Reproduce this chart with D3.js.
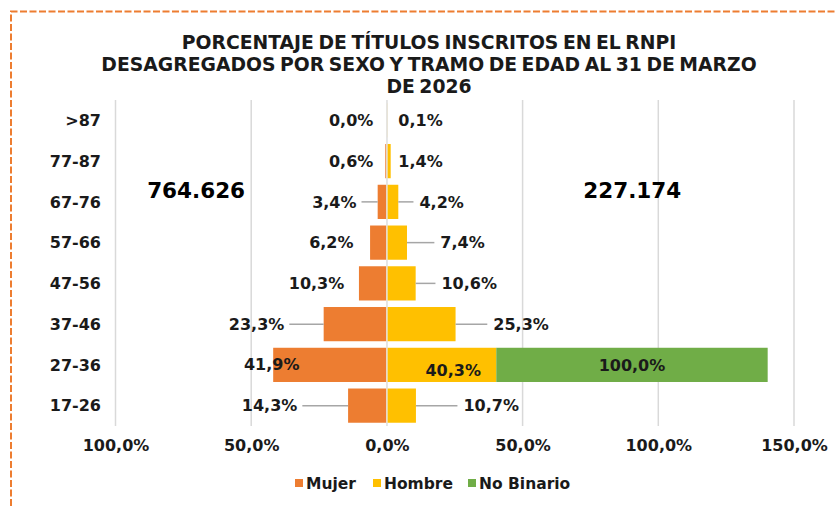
<!DOCTYPE html>
<html lang="es">
<head>
  <meta charset="UTF-8">
  <title>Porcentaje de títulos inscritos en el RNPI</title>
  <script src="https://d3js.org/d3.v7.min.js"></script>
  <style>
    body {
      margin: 0;
      background-color: white;
    }
    .lbl {
      font-family: "DejaVu Sans", Verdana, sans-serif;
      font-weight: bold;
    }
  </style>
</head>
<body>
  <div id="chart"></div>

<script>
  // age groups, top to bottom
  var ages = [">87", "77-87", "67-76", "57-66", "47-56", "37-46", "27-36", "17-26"];
  var mujer = [0.0, 0.6, 3.4, 6.2, 10.3, 23.3, 41.9, 14.3];
  var hombre = [0.1, 1.4, 4.2, 7.4, 10.6, 25.3, 40.3, 10.7];
  var noBinario = [0, 0, 0, 0, 0, 0, 100.0, 0];
  var totals = ["764.626", "227.174"];
  var xTicks = [-100, -50, 0, 50, 100, 150];
  var titleLines = [
    "PORCENTAJE DE TÍTULOS INSCRITOS EN EL RNPI",
    "DESAGREGADOS POR SEXO Y TRAMO DE EDAD AL 31 DE MARZO",
    "DE 2026"
  ];
  var series = ["Mujer", "Hombre", "No Binario"];
  var colors = ["#ED7D31", "#FFC000", "#70AD47"];

  // where excel left the data labels (in axis units)
  var mujerLabelAt = [-5.0, -5.0, -11.2, -12.3, -15.7, -37.8, -32.2, -33.0];
  var hombreLabelAt = [4.2, 4.2, 12.0, 19.7, 20.1, 39.2, 14.2, 28.2];

  var width = 835, height = 506;
  var fmt = v => d3.format(".1f")(Math.abs(v)).replace(".", ",") + "%";

  var svg = d3.select("#chart").append("svg")
    .attr("width", width)
    .attr("height", height);

  // dashed frame
  svg.append("path")
    .attr("d", "M11,506 L11,11.5 L835,11.5")
    .attr("fill", "none")
    .attr("stroke", "#ED7D31")
    .attr("stroke-width", 2)
    .attr("stroke-dasharray", "7,2.5");

  // title
  svg.append("text")
    .attr("class", "lbl")
    .attr("text-anchor", "middle")
    .style("font-size", "18.8px")
    .style("word-spacing", "-2px")
    .attr("fill", "#1a1a1a")
    .selectAll("tspan")
    .data(titleLines)
    .join("tspan")
    .attr("x", 429)
    .attr("y", (d, i) => 49 + i * 22)
    .text(d => d);

  var x = d3.scaleLinear().domain([-100, 150]).range([115.5, 794]);
  var y = d3.scaleBand().domain(ages).range([100, 426])
    .paddingInner(0.16).paddingOuter(0.08);

  // gridlines
  svg.append("g")
    .selectAll("line")
    .data(xTicks)
    .join("line")
    .attr("x1", d => x(d)).attr("x2", d => x(d))
    .attr("y1", 100).attr("y2", 426)
    .attr("stroke", "#d9d9d9")
    .attr("stroke-width", 1.5);

  // bars
  var rows = ages.map((a, i) => ({ age: a, m: mujer[i], h: hombre[i], nb: noBinario[i], i: i }));
  var bars = svg.append("g");
  bars.selectAll(".m").data(rows).join("rect")
    .attr("x", d => x(-d.m))
    .attr("width", d => x(0) - x(-d.m))
    .attr("y", d => y(d.age))
    .attr("height", y.bandwidth())
    .attr("fill", colors[0]);
  bars.selectAll(".h").data(rows).join("rect")
    .attr("x", x(0))
    .attr("width", d => x(d.h) - x(0))
    .attr("y", d => y(d.age))
    .attr("height", y.bandwidth())
    .attr("fill", colors[1]);
  bars.selectAll(".nb").data(rows.filter(d => d.nb > 0)).join("rect")
    .attr("x", d => x(d.h))
    .attr("width", d => x(d.h + d.nb) - x(d.h))
    .attr("y", d => y(d.age))
    .attr("height", y.bandwidth())
    .attr("fill", colors[2]);

  // zero line on top
  svg.append("line")
    .attr("x1", x(0)).attr("x2", x(0))
    .attr("y1", 100).attr("y2", 426)
    .attr("stroke", "#e6e6e6")
    .attr("stroke-width", 1.5);

  // category labels
  svg.append("g").selectAll("text").data(ages).join("text")
    .attr("class", "lbl")
    .attr("x", 101)
    .attr("y", d => y(d) + y.bandwidth() / 2)
    .attr("dy", "0.36em")
    .attr("text-anchor", "end")
    .style("font-size", "16px")
    .attr("fill", "#1a1a1a")
    .text(d => d);

  // data labels + leader lines
  var cy = d => y(d.age) + y.bandwidth() / 2;
  var lab = svg.append("g");
  rows.forEach(function(d) {
    var mx = x(mujerLabelAt[d.i]);
    var hx = x(hombreLabelAt[d.i]);
    var inside = d.nb > 0;
    lab.append("text")
      .attr("class", "lbl")
      .attr("x", mx).attr("y", cy(d) + (inside ? -1 : 0))
      .attr("dy", "0.36em")
      .attr("text-anchor", "end")
      .style("font-size", "16px")
      .attr("fill", "#1a1a1a")
      .text(fmt(d.m));
    lab.append("text")
      .attr("class", "lbl")
      .attr("x", hx).attr("y", cy(d) + (inside ? 5 : 0))
      .attr("dy", "0.36em")
      .attr("text-anchor", "start")
      .style("font-size", "16px")
      .attr("fill", "#1a1a1a")
      .text(fmt(d.h));
    if (!inside) {
      if (x(-d.m) - mx > 18) {
        lab.append("line")
          .attr("x1", mx + 5).attr("x2", x(-d.m))
          .attr("y1", cy(d)).attr("y2", cy(d))
          .attr("stroke", "#a6a6a6").attr("stroke-width", 1.5);
      }
      if (hx - x(d.h) > 18) {
        lab.append("line")
          .attr("x1", x(d.h)).attr("x2", hx - 6)
          .attr("y1", cy(d)).attr("y2", cy(d))
          .attr("stroke", "#a6a6a6").attr("stroke-width", 1.5);
      }
    } else {
      lab.append("text")
        .attr("class", "lbl")
        .attr("x", x(d.h + d.nb / 2)).attr("y", cy(d))
        .attr("dy", "0.36em")
        .attr("text-anchor", "middle")
        .style("font-size", "16px")
        .attr("fill", "#1a1a1a")
        .text(fmt(d.nb));
    }
  });

  // totals
  svg.append("g").selectAll("text").data(totals).join("text")
    .attr("class", "lbl")
    .attr("x", (d, i) => x(i === 0 ? -70.3 : 90.4))
    .attr("y", y("67-76") + y.bandwidth() / 2 - 12)
    .attr("dy", "0.36em")
    .attr("text-anchor", "middle")
    .style("font-size", "21.5px")
    .attr("fill", "#000")
    .text(d => d);

  // x axis
  var axis = svg.append("g")
    .attr("transform", "translate(0,437)")
    .call(d3.axisBottom(x).tickValues(xTicks).tickSize(0).tickFormat(fmt));
  axis.select(".domain").remove();
  axis.selectAll("text")
    .attr("class", "lbl")
    .style("font-size", "16px")
    .attr("fill", "#1a1a1a");

  // legend
  var legX = [295, 373, 468];
  var leg = svg.append("g").selectAll("g").data(series).join("g")
    .attr("transform", (d, i) => "translate(" + legX[i] + ",483)");
  leg.append("rect")
    .attr("x", 0).attr("y", -4)
    .attr("width", 8).attr("height", 8)
    .attr("fill", (d, i) => colors[i]);
  leg.append("text")
    .attr("class", "lbl")
    .attr("x", 11)
    .attr("dy", "0.36em")
    .style("font-size", "15.5px")
    .attr("fill", "#1a1a1a")
    .text(d => d);
</script>
</body>
</html>
